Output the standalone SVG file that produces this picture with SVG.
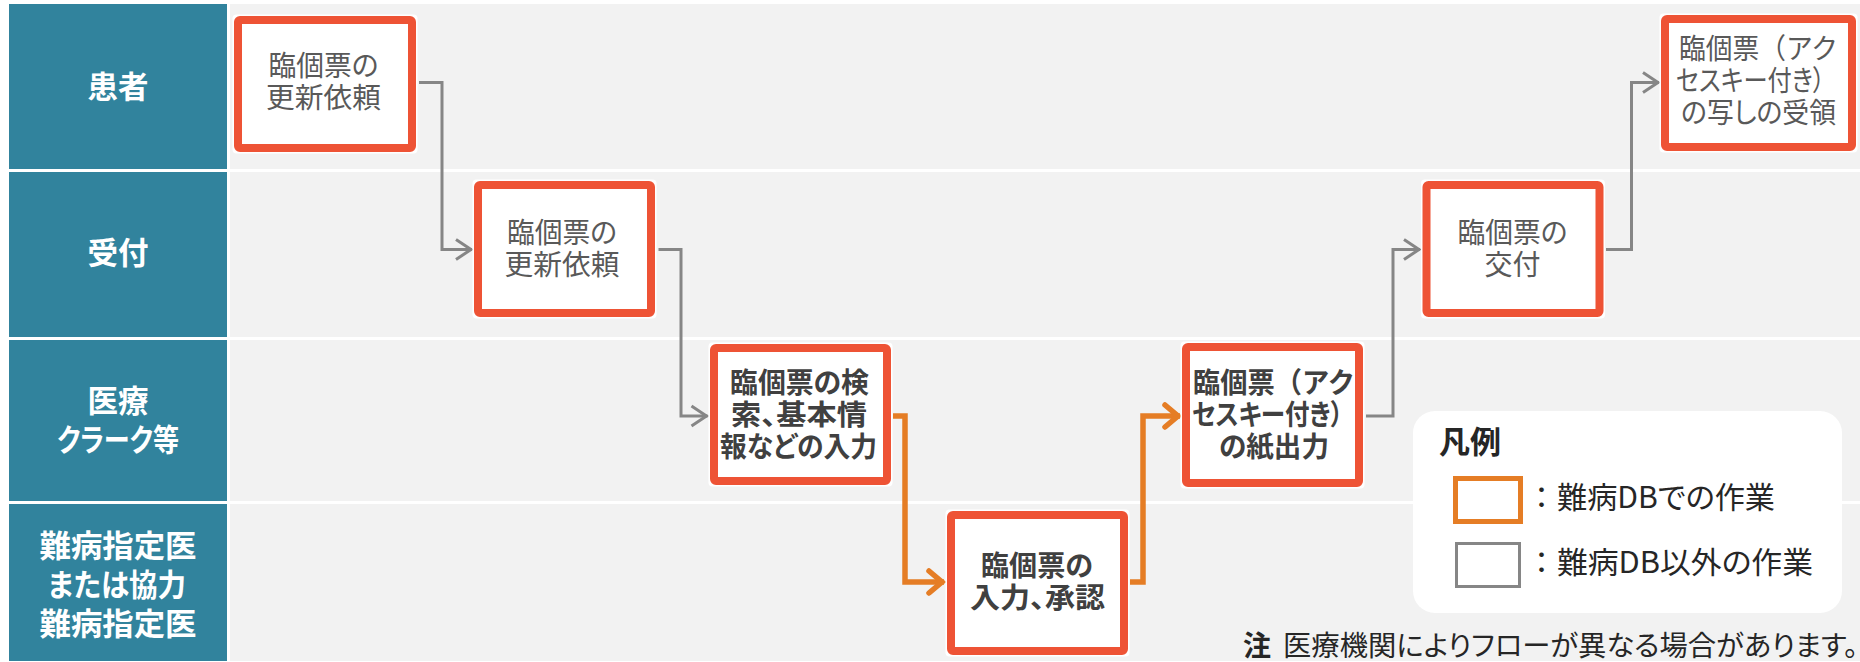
<svg xmlns="http://www.w3.org/2000/svg" width="1860" height="662" viewBox="0 0 1860 662">
<style>
text{font-family:"Noto Sans CJK JP","Noto Sans CJK SC",sans-serif;text-anchor:middle;font-feature-settings:"palt"}
.lane{fill:#f2f2f2}
.head{fill:#31839d}
.lt{fill:#fff;font-size:31px;font-weight:700}
.halo{fill:#fff}
.box{fill:#fff;stroke:#ee5335;stroke-width:8}
.n{fill:#595959;font-size:28.5px}
.b{fill:#404040;font-size:28.5px;font-weight:700}
.full{font-feature-settings:normal}
.g{fill:none;stroke:#868686;stroke-width:3}
.o{fill:none;stroke:#e57d25;stroke-width:5.5}
.leg{fill:#262626;font-size:30px;text-anchor:start}
</style>
<defs>
<marker id="ag" markerUnits="userSpaceOnUse" markerWidth="24" markerHeight="28" viewBox="-20 -14 24 28" refX="0" refY="0" orient="auto" overflow="visible"><path d="M-16,-10 L-1,0 L-16,10" fill="none" stroke="#868686" stroke-width="3"/></marker>
<marker id="ao" markerUnits="userSpaceOnUse" markerWidth="28" markerHeight="32" viewBox="-22 -16 28 32" refX="0" refY="0" orient="auto" overflow="visible"><path d="M-15,-11 L-2,0 L-15,11" fill="none" stroke="#e57d25" stroke-width="5.5" stroke-linecap="round"/></marker>
</defs>
<g id="lanes">
<rect class="lane" x="230" y="4" width="1630" height="165"/>
<rect class="lane" x="230" y="172" width="1630" height="165"/>
<rect class="lane" x="230" y="340" width="1630" height="161"/>
<rect class="lane" x="230" y="504" width="1630" height="157"/>
</g>
<g id="lane-patient"><rect class="head" x="9" y="4" width="218" height="165"/><text class="lt" x="118" y="98" textLength="61" lengthAdjust="spacingAndGlyphs">患者</text></g>
<g id="lane-reception"><rect class="head" x="9" y="172" width="218" height="165"/><text class="lt" x="118" y="264" textLength="61" lengthAdjust="spacingAndGlyphs">受付</text></g>
<g id="lane-clerk"><rect class="head" x="9" y="340" width="218" height="161"/><text class="lt" x="118" y="412" textLength="61" lengthAdjust="spacingAndGlyphs">医療</text><text class="lt" x="118" y="451" textLength="122" lengthAdjust="spacingAndGlyphs">クラーク等</text></g>
<g id="lane-doctor"><rect class="head" x="9" y="504" width="218" height="157"/><text class="lt" x="118" y="557" textLength="157" lengthAdjust="spacingAndGlyphs">難病指定医</text><text class="lt" x="117" y="596" textLength="138" lengthAdjust="spacingAndGlyphs">または協力</text><text class="lt" x="118" y="635" textLength="157" lengthAdjust="spacingAndGlyphs">難病指定医</text></g>
<g id="connectors">
<path class="g" marker-end="url(#ag)" d="M419,82.500H442V249.500H472"/>
<path class="g" marker-end="url(#ag)" d="M658.500,249.500H681V416H707.500"/>
<path class="o" marker-end="url(#ao)" d="M893,416H905V582H944"/>
<path class="o" marker-end="url(#ao)" d="M1130,582H1143V416H1180"/>
<path class="g" marker-end="url(#ag)" d="M1366,416H1393V249.500H1420"/>
<path class="g" marker-end="url(#ag)" d="M1606,249.500H1631.500V82.500H1659"/>
</g>
<g id="node1"><rect class="halo" x="232.500" y="14.500" width="185" height="139" rx="4"/><rect class="box" x="238" y="20" width="174" height="128" rx="2"/><text class="n" x="323.500" y="76" textLength="110" lengthAdjust="spacingAndGlyphs">臨個票の</text><text class="n" x="323.500" y="108" textLength="115" lengthAdjust="spacingAndGlyphs">更新依頼</text></g>
<g id="node2"><rect class="halo" x="472.500" y="179.500" width="184" height="139" rx="4"/><rect class="box" x="478" y="185" width="173" height="128" rx="2"/><text class="n" x="562" y="243" textLength="110" lengthAdjust="spacingAndGlyphs">臨個票の</text><text class="n" x="562" y="275" textLength="115" lengthAdjust="spacingAndGlyphs">更新依頼</text></g>
<g id="node3"><rect class="halo" x="708.500" y="342.500" width="184" height="144" rx="4"/><rect class="box" x="714" y="348" width="173" height="133" rx="2"/><text class="b" x="799.500" y="393" textLength="139" lengthAdjust="spacingAndGlyphs">臨個票の検</text><text class="b" x="799" y="425" textLength="136" lengthAdjust="spacingAndGlyphs">索、基本情</text><text class="b" x="798.500" y="457" textLength="157" lengthAdjust="spacingAndGlyphs">報などの入力</text></g>
<g id="node4"><rect class="halo" x="945.500" y="509.500" width="184" height="147" rx="4"/><rect class="box" x="951" y="515" width="173" height="136" rx="2"/><text class="b" x="1037" y="576" textLength="112" lengthAdjust="spacingAndGlyphs">臨個票の</text><text class="b" x="1037.500" y="608" textLength="135" lengthAdjust="spacingAndGlyphs">入力、承認</text></g>
<g id="node5"><rect class="halo" x="1180.500" y="341.500" width="184" height="147" rx="4"/><rect class="box" x="1186" y="347" width="173" height="136" rx="2"/><text class="b full" x="1274" y="393" textLength="162" lengthAdjust="spacingAndGlyphs">臨個票（アク</text><text class="b" x="1267.500" y="425" textLength="151" lengthAdjust="spacingAndGlyphs">セスキー付き）</text><text class="b" x="1274" y="457" textLength="110" lengthAdjust="spacingAndGlyphs">の紙出力</text></g>
<g id="node6"><rect class="halo" x="1421" y="179.500" width="184" height="139" rx="4"/><rect class="box" x="1426.500" y="185" width="173" height="128" rx="2"/><text class="n" x="1512.500" y="243" textLength="110" lengthAdjust="spacingAndGlyphs">臨個票の</text><text class="n" x="1512.500" y="275" textLength="56" lengthAdjust="spacingAndGlyphs">交付</text></g>
<g id="node7"><rect class="halo" x="1659.500" y="13.500" width="198" height="139" rx="4"/><rect class="box" x="1665" y="19" width="187" height="128" rx="2"/><text class="n full" x="1758.500" y="59" textLength="159" lengthAdjust="spacingAndGlyphs">臨個票（アク</text><text class="n" x="1750.500" y="91" textLength="149" lengthAdjust="spacingAndGlyphs">セスキー付き）</text><text class="n" x="1758.500" y="123" textLength="155" lengthAdjust="spacingAndGlyphs">の写しの受領</text></g>
<g id="legend">
<rect x="1413" y="411" width="429" height="202" rx="22" fill="#fff"/>
<text x="1439" y="453" font-size="31" font-weight="700" fill="#262626" style="text-anchor:start">凡例</text>
<rect x="1455.500" y="478.500" width="65" height="43" fill="#fff" stroke="#e57d25" stroke-width="5"/>
<rect x="1456.500" y="543.500" width="63" height="43" fill="#fff" stroke="#868686" stroke-width="3"/>
<text class="leg" x="1534" y="508">：</text>
<text class="leg" x="1557" y="508" textLength="218" lengthAdjust="spacingAndGlyphs">難病DBでの作業</text>
<text class="leg" x="1534" y="573">：</text>
<text class="leg" x="1557" y="573" textLength="256" lengthAdjust="spacingAndGlyphs">難病DB以外の作業</text>
</g>
<g id="note">
<text x="1243" y="656" font-size="28" font-weight="700" fill="#262626" style="text-anchor:start">注</text>
<text x="1283" y="656" font-size="28" fill="#262626" style="text-anchor:start" textLength="575" lengthAdjust="spacingAndGlyphs">医療機関によりフローが異なる場合があります。</text>
</g>
</svg>
